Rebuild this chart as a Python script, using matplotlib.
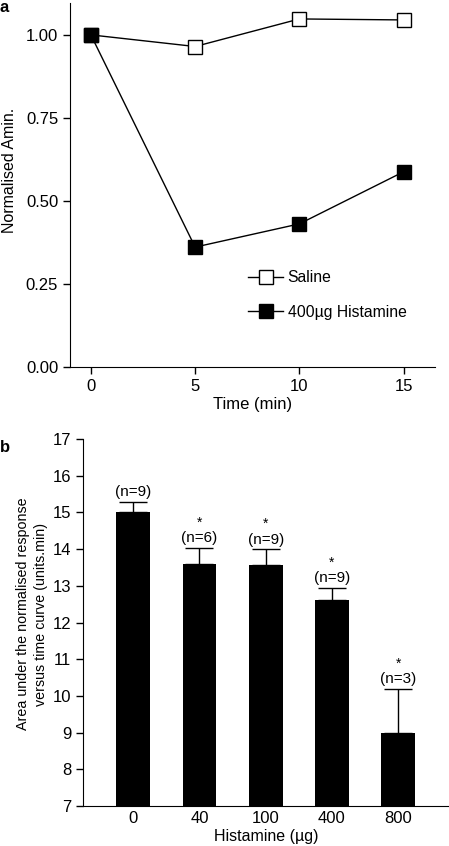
import matplotlib
matplotlib.use("Agg")
import matplotlib.pyplot as plt
import numpy as np

plt.rcParams['font.family'] = ['Liberation Sans', 'DejaVu Sans']
plt.rcParams['font.size'] = 11

# Panel a data
time_min = [0, 5, 10, 15]
saline = [1.00, 0.965, 1.048, 1.045]
histamine400 = [1.00, 0.361, 0.431, 0.588]

# Panel b data
doses = ['0', '40', '100', '400', '800']
area = [15.0, 13.6, 13.56, 12.6, 8.98]
area_err = [0.28, 0.42, 0.43, 0.35, 1.2]
n_labels = ['(n=9)', '(n=6)', '(n=9)', '(n=9)', '(n=3)']
signif = ['', '*', '*', '*', '*']

fig = plt.figure(figsize=(4.49, 8.46), dpi=100)

# ---- Panel a ----
ax1 = fig.add_axes([70/449, 1-367/846, (435-70)/449, (367-3)/846])
ax1.plot(time_min, saline, color='black', lw=1, marker='s', ms=9.5,
         mfc='white', mec='black', mew=1, label='Saline')
ax1.plot(time_min, histamine400, color='black', lw=1, marker='s', ms=9.5,
         mfc='black', mec='black', mew=1, label='400\u00b5g Histamine')
ax1.set_xlim(-1, 16.5)
ax1.set_ylim(0, 1.096)
ax1.set_xticks([0, 5, 10, 15])
ax1.set_yticks([0, 0.25, 0.5, 0.75, 1.0])
ax1.set_yticklabels(['0.00', '0.25', '0.50', '0.75', '1.00'])
ax1.spines['top'].set_visible(False)
ax1.spines['right'].set_visible(False)
ax1.tick_params(direction='out', length=5, width=1, labelsize=12)
ax1.set_xlabel('Time (min)', fontsize=12, labelpad=2)
ax1.set_ylabel('Normalised Amin.', fontsize=11.5)
ax1.yaxis.set_label_coords(-0.145, 0.54)
ax1.legend(loc='upper left', bbox_to_anchor=(0.45, 0.305), frameon=False,
           fontsize=11.3, handlelength=2.2, handletextpad=0.3, labelspacing=1.25)

# ---- Panel b ----
ax2 = fig.add_axes([83/449, 1-806/846, 1-83/449, (806-439)/846])
x = np.arange(len(doses))
ax2.bar(x, area, width=0.51, color='black', zorder=2)
ax2.errorbar(x, area, yerr=[np.zeros(len(area)), area_err], fmt='none',
             ecolor='black', elinewidth=1, capsize=10, capthick=1, zorder=1)
for xi, v, e, nl, s in zip(x, area, area_err, n_labels, signif):
    ax2.text(xi, v + e + 0.08, nl, ha='center', va='bottom', fontsize=11)
    if s:
        ax2.text(xi, v + e + 0.5, s, ha='center', va='bottom', fontsize=10)
ax2.set_xlim(-0.76, 4.77)
ax2.set_ylim(7, 17)
ax2.set_yticks(range(7, 18))
ax2.set_xticks(x)
ax2.set_xticklabels(doses)
ax2.spines['top'].set_visible(False)
ax2.spines['right'].set_visible(False)
ax2.tick_params(direction='out', length=5, width=1, labelsize=12)
ax2.tick_params(axis='x', length=0)
ax2.set_xlabel('Histamine (\u00b5g)', fontsize=11.5, labelpad=2)
ax2.set_ylabel('Area under the normalised response\nversus time curve (units.min)',
               fontsize=10.3, linespacing=1.35)
ax2.yaxis.set_label_coords(-0.096, 0.523)

fig.text(0.0, 1-8/846, 'a', fontsize=12, fontweight='bold', ha='left', va='center')
fig.text(0.0, 1-447/846, 'b', fontsize=12, fontweight='bold', ha='left', va='center')

fig.savefig('out.png', dpi=100)
